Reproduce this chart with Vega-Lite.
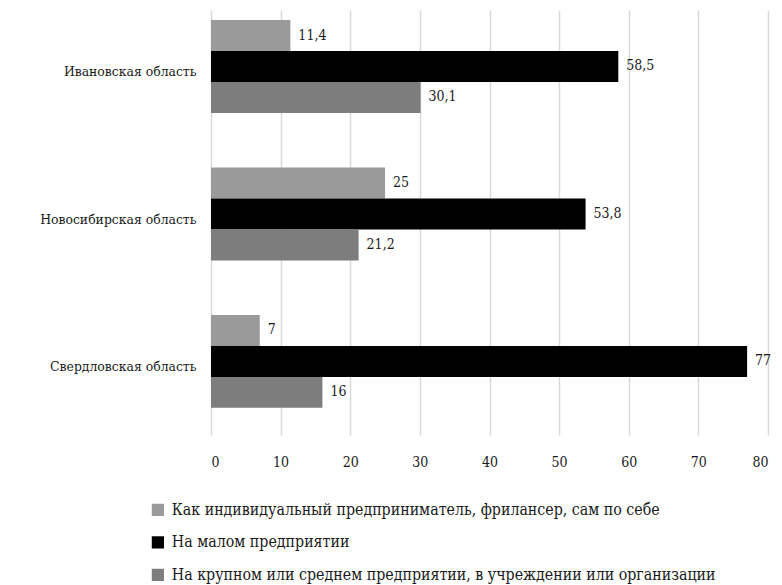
{
  "$schema": "https://vega.github.io/schema/vega-lite/v6.json",
  "autosize": "none",
  "width": 557,
  "height": 425,
  "padding": {"left": 211, "top": 10, "right": 14, "bottom": 150},
  "background": "white",
  "config": {
    "font": "'DejaVu Serif Condensed', 'DejaVu Serif', serif",
    "view": {"stroke": null},
    "locale": {"number": {"decimal": ",", "thousands": " ", "grouping": [3], "currency": ["", ""]}}
  },
  "data": {
    "values": [
      {"region": "Ивановская область", "series": "Как индивидуальный предприниматель, фрилансер, сам по себе", "value": 11.4},
      {"region": "Ивановская область", "series": "На малом предприятии", "value": 58.5},
      {"region": "Ивановская область", "series": "На крупном или среднем предприятии, в учреждении или организации", "value": 30.1},
      {"region": "Новосибирская область", "series": "Как индивидуальный предприниматель, фрилансер, сам по себе", "value": 25},
      {"region": "Новосибирская область", "series": "На малом предприятии", "value": 53.8},
      {"region": "Новосибирская область", "series": "На крупном или среднем предприятии, в учреждении или организации", "value": 21.2},
      {"region": "Свердловская область", "series": "Как индивидуальный предприниматель, фрилансер, сам по себе", "value": 7},
      {"region": "Свердловская область", "series": "На малом предприятии", "value": 77},
      {"region": "Свердловская область", "series": "На крупном или среднем предприятии, в учреждении или организации", "value": 16}
    ]
  },
  "encoding": {
    "y": {
      "field": "region", "type": "nominal",
      "sort": ["Ивановская область", "Новосибирская область", "Свердловская область"],
      "scale": {"paddingInner": 0.37, "paddingOuter": 0.126, "align": 0.27},
      "axis": {"title": null, "domain": false, "ticks": false, "labelFontSize": 13.8, "labelColor": "#1a1a1a", "labelPadding": 15, "labelOffset": 6}
    },
    "yOffset": {
      "field": "series", "type": "nominal",
      "sort": ["Как индивидуальный предприниматель, фрилансер, сам по себе", "На малом предприятии", "На крупном или среднем предприятии, в учреждении или организации"],
      "scale": {"paddingInner": 0, "paddingOuter": 0}
    },
    "x": {
      "field": "value", "type": "quantitative",
      "scale": {"domain": [0, 80], "nice": false},
      "axis": {"title": null, "values": [0, 10, 20, 30, 40, 50, 60, 70, 80], "labelOverlap": false, "domain": false, "ticks": false, "grid": true, "gridColor": "#d9d9d9", "gridWidth": 1.5, "labelFontSize": 14, "labelColor": "#1a1a1a", "labelPadding": 20}
    }
  },
  "layer": [
    {
      "mark": {"type": "bar"},
      "encoding": {
        "color": {
          "field": "series", "type": "nominal",
          "sort": ["Как индивидуальный предприниматель, фрилансер, сам по себе", "На малом предприятии", "На крупном или среднем предприятии, в учреждении или организации"],
          "scale": {
            "domain": ["Как индивидуальный предприниматель, фрилансер, сам по себе", "На малом предприятии", "На крупном или среднем предприятии, в учреждении или организации"],
            "range": ["#9a9a9a", "#000000", "#7d7d7d"]
          },
          "legend": {
            "title": null, "orient": "none", "legendX": -61, "legendY": 492, "direction": "vertical",
            "symbolType": "square", "symbolSize": 150, "symbolStrokeWidth": 0, "rowPadding": 15.5,
            "labelFontSize": 15.8, "labelColor": "#1a1a1a", "labelLimit": 650, "labelOffset": 6
          }
        }
      }
    },
    {
      "mark": {"type": "text", "align": "left", "baseline": "middle", "dx": 8, "fontSize": 14, "color": "#1a1a1a"},
      "encoding": {
        "text": {"field": "value", "type": "quantitative", "format": ".1~f"}
      }
    }
  ]
}
